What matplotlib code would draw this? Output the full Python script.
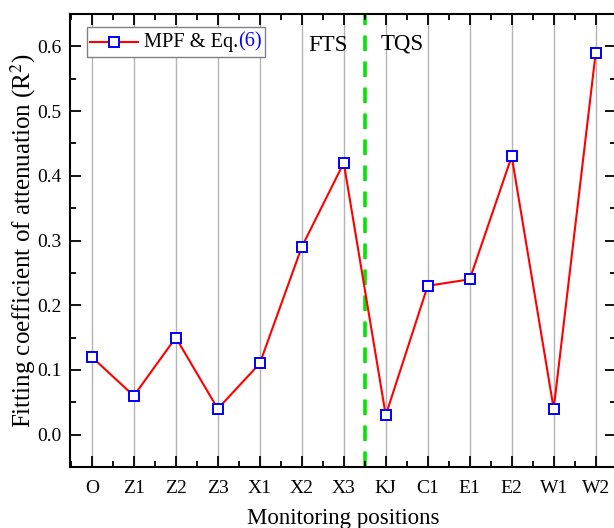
import matplotlib
matplotlib.use('Agg')
import matplotlib.pyplot as plt
from matplotlib.ticker import MultipleLocator, FixedLocator
from matplotlib.lines import Line2D
from matplotlib.offsetbox import AnchoredOffsetbox, HPacker, TextArea, DrawingArea

plt.rcParams['font.family'] = ['Liberation Serif', 'DejaVu Serif']
plt.rcParams['mathtext.fontset'] = 'stix'

positions = ['O', 'Z1', 'Z2', 'Z3', 'X1', 'X2', 'X3', 'KJ', 'C1', 'E1', 'E2', 'W1', 'W2']
r2 = [0.12, 0.06, 0.15, 0.04, 0.11, 0.29, 0.42, 0.03, 0.23, 0.24, 0.43, 0.04, 0.59]
split_at = 6.5  # boundary between FTS and TQS

fig = plt.figure(figsize=(6.14, 5.28), dpi=100)
ax = fig.add_axes([0.114, 0.1155, 0.889, 0.858])

x = list(range(len(positions)))

# vertical gridlines at each position
for xi in x:
    ax.axvline(xi, color='#b4b4b4', lw=1.0, zorder=0)

ax.axvline(split_at, color='#00e600', lw=2.6, ls=(0, (4.3, 2.9)), zorder=1)

line_kw = dict(color='red', lw=1.5, marker='s', ms=6.5, mfc='white', mec='blue', mew=1.4)
ax.plot(x, r2, zorder=3, **line_kw)

ax.set_xlim(-0.52, 12.48)
ax.set_ylim(-0.05, 0.65)
ax.set_xticks(x)
ax.set_xticklabels(positions)
ax.xaxis.set_minor_locator(FixedLocator([i + 0.5 for i in range(-1, 13)]))
ax.yaxis.set_major_locator(MultipleLocator(0.1))
ax.yaxis.set_minor_locator(MultipleLocator(0.05))
ax.yaxis.set_major_formatter(matplotlib.ticker.FormatStrFormatter('%.1f'))

ax.tick_params(which='both', direction='in', top=True, right=True, labelsize=14, width=1.3)
ax.tick_params(which='major', length=8)
ax.tick_params(which='minor', length=4.5)
ax.tick_params(axis='x', pad=9)
ax.tick_params(axis='y', pad=6)
for s in ax.spines.values():
    s.set_linewidth(1.5)

ax.set_xlabel('Monitoring positions', fontsize=16.5, labelpad=8)
ax.set_ylabel('Fitting coefficient of attenuation (R$^2$)', fontsize=18, labelpad=-0.5)

ax.text(5.62, 0.601, 'FTS', fontsize=16.5, ha='center', va='center')
ax.text(7.38, 0.604, 'TQS', fontsize=16.5, ha='center', va='center')

# legend built by hand so "(6)" can be blue
da = DrawingArea(34, 16.5, 0, 0)
da.add_artist(Line2D([0, 34], [8.25, 8.25], color='red', lw=1.5))
da.add_artist(Line2D([17], [8.25], ls='none', marker='s', ms=6.5, mfc='white', mec='blue', mew=1.4))
txt = HPacker(children=[TextArea('MPF & Eq.', textprops=dict(fontsize=14.7, color='black')),
                        TextArea('(6)', textprops=dict(fontsize=14.7, color='blue'))],
              align='baseline', pad=0, sep=0)
box = HPacker(children=[da, txt], align='center', pad=0, sep=4.3)
leg = AnchoredOffsetbox(loc='upper left', child=box, pad=0.25, borderpad=0,
                        bbox_to_anchor=(0.031, 0.971), bbox_transform=ax.transAxes,
                        frameon=True)
leg.patch.set_edgecolor('#808080')
leg.patch.set_linewidth(1.0)
leg.set_zorder(5)
ax.add_artist(leg)

fig.savefig('out.png', dpi=100)
